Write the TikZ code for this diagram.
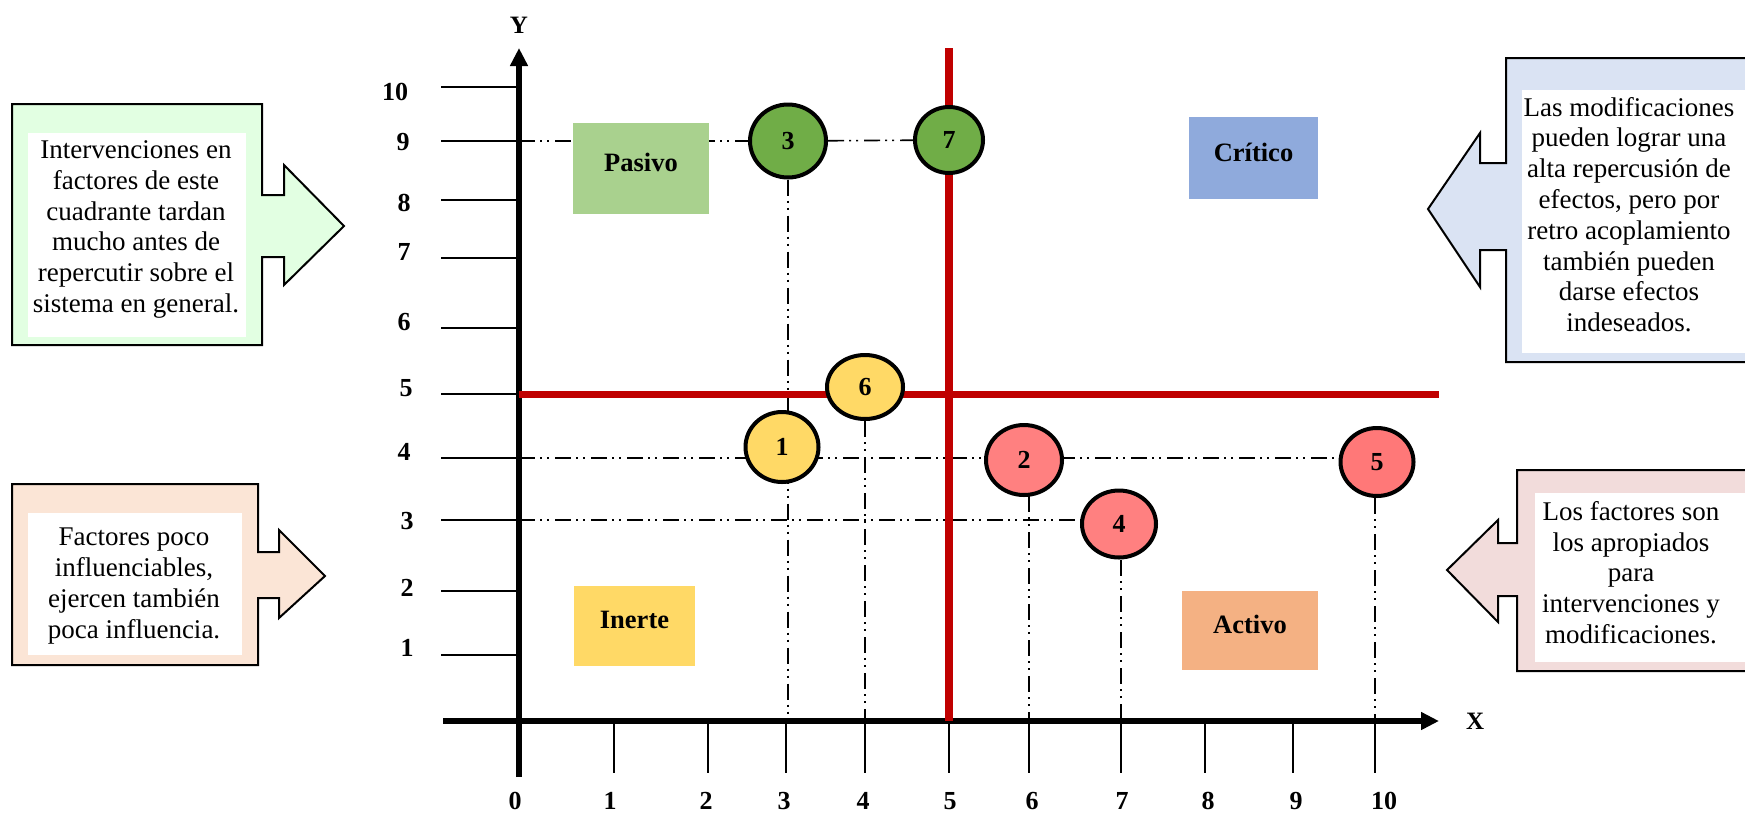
\documentclass[tikz,border=0pt]{standalone}
\usepackage{fontspec}
\setmainfont{Liberation Serif}
\usetikzlibrary{arrows.meta,positioning,shapes.geometric}
\definecolor{verde}{HTML}{70AD47}
\definecolor{amarillo}{HTML}{FFD966}
\definecolor{rosa}{HTML}{FF8080}
\definecolor{rosaB}{HTML}{FF7878}
\definecolor{rojo}{HTML}{C00000}
\definecolor{verdeClaro}{HTML}{A9D18E}
\definecolor{naranja}{HTML}{F4B183}
\definecolor{azul}{HTML}{8FAADC}
\definecolor{notaVerde}{HTML}{E2FFE2}
\definecolor{notaNaranja}{HTML}{FBE5D6}
\definecolor{notaAzul}{HTML}{DAE3F3}
\definecolor{notaRosa}{HTML}{F2DCDB}
\pgfdeclarelayer{fondo}
\pgfsetlayers{fondo,main}
\tikzset{
    matriz/.style={x=1pt,y=-1pt},
    punto/.style={ellipse,draw,line width=4pt,inner sep=0pt,
                  font=\fontsize{26}{30}\selectfont\bfseries},
    cuadrante/.style={rectangle,inner sep=0pt,text depth=12pt,
                  font=\fontsize{26.5}{30}\selectfont\bfseries},
    numero/.style={inner sep=0pt,font=\fontsize{26}{30}\selectfont\bfseries},
    etiquetaEje/.style={inner sep=0pt,font=\fontsize{25}{30}\selectfont\bfseries},
    guia/.style={line width=1.6pt,
                  dash pattern=on 16pt off 5pt on 2pt off 5pt on 2pt off 6pt},
    eje/.style={line width=5.5pt,-{Triangle[length=18pt,width=17pt]}},
    marca/.style={line width=2pt},
    divisor/.style={draw=rojo,line width=7.5pt},
    flecha/.style={draw,line width=2pt,line join=miter},
    nota/.style={fill=white,inner sep=0pt},
    texto/.style={inner sep=0pt,align=center,font=\fontsize{27}{30.8}\selectfont},
    }
\begin{document}
\begin{tikzpicture}[matriz]
\path[use as bounding box] (0,0) rectangle (1745,815);
\clip (0,0) rectangle (1745,815);

% notas laterales
\draw[flecha,fill=notaVerde] (12,104) -- (262,104) -- (262,195) -- (284,195) -- (284,165)
    -- (344,226) -- (284,285) -- (284,257) -- (262,257) -- (262,345) -- (12,345) -- cycle;
\node[nota,minimum width=218pt,minimum height=204pt] (notaPasivo) at (137,235) {};
\node[texto] (txtPasivo) at (136,229.5) {Intervenciones en\\factores de este\\cuadrante tardan\\mucho antes de\\repercutir sobre el\\sistema en general.};

\draw[flecha,fill=notaNaranja] (12,484) -- (258,484) -- (258,552) -- (279,552) -- (279,530)
    -- (325,576) -- (279,618) -- (279,598) -- (258,598) -- (258,665) -- (12,665) -- cycle;
\node[nota,minimum width=214pt,minimum height=142pt] (notaInerte) at (135,584) {};
\node[texto] (txtInerte) at (134,586) {Factores poco\\influenciables,\\ejercen también\\poca influencia.};

\draw[flecha,fill=notaAzul] (1770,58) -- (1506,58) -- (1506,163) -- (1480,163) -- (1480,133)
    -- (1428,209) -- (1480,287) -- (1480,250) -- (1506,250) -- (1506,362) -- (1770,362) -- cycle;
\node[nota,minimum width=240pt,minimum height=263pt] (notaCritico) at (1642,221.5) {};
\node[texto] (txtCritico) at (1629,214.5) {Las modificaciones\\pueden lograr una\\alta repercusión de\\efectos, pero por\\retro acoplamiento\\también pueden\\darse efectos\\indeseados.};

\draw[flecha,fill=notaRosa] (1770,470) -- (1517,470) -- (1517,543) -- (1498,543) -- (1498,520)
    -- (1447,570) -- (1498,622) -- (1498,596) -- (1517,596) -- (1517,671) -- (1770,671) -- cycle;
\node[nota,minimum width=230pt,minimum height=169pt] (notaActivo) at (1650,577.5) {};
\node[texto] (txtActivo) at (1631,572.5) {Los factores son\\los apropiados\\para\\intervenciones y\\modificaciones.};

% factores
\foreach \n/\px/\py/\w/\h/\col in {3/788/141/76/73/verde, 7/949/140/68/66/verde,
    6/865/387/76/64/amarillo, 1/782/447/73/70/amarillo, 2/1024/460/76/70/rosa,
    4/1119/524/74/67/rosa, 5/1377/462/73/68/rosaB}
    \node[punto,fill=\col,minimum width=\w pt,minimum height=\h pt] (c\n) at (\px,\py) {\n};

\begin{pgfonlayer}{fondo}
% ejes y marcas
\coordinate (origen) at (519,721);
\coordinate (xini) at (443,721);
\coordinate (xfin) at (1439,721);
\coordinate (yini) at (519,777);
\coordinate (yfin) at (519,48);
\foreach \v/\y/\ly/\lx in {1/655/648/407, 2/591/588/407, 3/520/521/407, 4/458/452/404,
    5/394/388/406, 6/328/322/404, 7/258/252/404, 8/200/203/404, 9/141/142/403, 10/87/92/395}{
    \coordinate (ty\v) at (519,\y);
    \draw[marca] (441,\y) -- (ty\v);
    \node[numero] (ny\v) at (\lx,\ly) {\v};
}
\foreach \v/\x/\lx in {1/614/610, 2/708/706, 3/786/784, 4/865/863, 5/949/950,
    6/1029/1032, 7/1121/1122, 8/1205/1208, 9/1293/1296, 10/1375/1384}{
    \coordinate (tx\v) at (\x,721);
    \draw[marca] (tx\v) -- (\x,773);
    \node[numero] (nx\v) at (\lx,801) {\v};
}
\node[numero] (nx0) at (515,801) {0};

% lineas guia
\draw[guia] (ty9) -- (c3);
\draw[guia] (c3) -- (c7);
\draw[guia] (c3) -- (c3 |- origen);
\draw[guia] (ty4) -- (ty4 -| c5);
\draw[guia] (ty3) -- (ty3 -| c4);
\draw[guia] (c6) -- (c6 |- origen);
\draw[guia] (tx6 |- c2) -- (tx6);
\draw[guia] (tx7 |- c4) -- (tx7);
\draw[guia] (tx10 |- c5) -- (tx10);

% cuadrantes
\node[cuadrante,fill=verdeClaro,minimum width=136pt,minimum height=91pt] (pasivo) at (641,168.5) {Pasivo};
\node[cuadrante,fill=azul,minimum width=129pt,minimum height=82pt] (critico) at (1253.5,158) {Crítico};
\node[cuadrante,fill=amarillo,minimum width=121pt,minimum height=80pt] (inerte) at (634.5,626) {Inerte};
\node[cuadrante,fill=naranja,minimum width=136pt,minimum height=79pt] (activo) at (1250,630.5) {Activo};

\draw[eje] (xini) -- (xfin);
\draw[eje] (yini) -- (yfin);
\node[etiquetaEje,above=14pt of yfin] (ejeY) {Y};
\node[etiquetaEje,right=27pt of xfin] (ejeX) {X};

% division de cuadrantes
\coordinate (rojoArriba) at (949,48);
\coordinate (rojoDer) at (1439,394.5);
\draw[divisor] (rojoArriba) -- (rojoArriba |- origen);
\draw[divisor] (ty5 |- rojoDer) -- (rojoDer);
\end{pgfonlayer}
\end{tikzpicture}
\end{document}
